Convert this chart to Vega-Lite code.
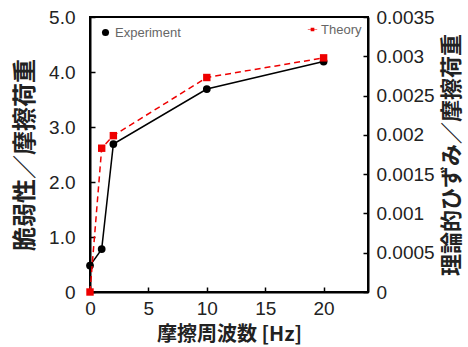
{
  "$schema": "https://vega.github.io/schema/vega-lite/v6.json",
  "autosize": "none",
  "width": 278,
  "height": 275,
  "padding": {"left": 90, "top": 17, "right": 100, "bottom": 55},
  "config": {
    "view": {"stroke": "black", "strokeWidth": 2},
    "font": "Liberation Sans",
    "axis": {
      "domainColor": "black", "domainWidth": 2, "tickColor": "black", "tickWidth": 1.5,
      "grid": false, "labelColor": "#222", "titleColor": "#222", "labelFlush": false,
      "labelFont": "Liberation Sans", "labelFontSize": 19,
      "titleFont": "Noto Sans CJK JP", "titleFontWeight": "bold"
    },
    "legend": {"labelFont": "Liberation Sans", "labelFontSize": 13, "labelColor": "#666", "padding": 0, "symbolStrokeWidth": 0}
  },
  "datasets": {
    "exp": [
      {"f": 0, "v": 0.48, "s": "Experiment"},
      {"f": 1, "v": 0.78, "s": "Experiment"},
      {"f": 2, "v": 2.69, "s": "Experiment"},
      {"f": 10, "v": 3.69, "s": "Experiment"},
      {"f": 20, "v": 4.19, "s": "Experiment"}
    ],
    "th": [
      {"f": 0, "v": 0.0, "s": "Theory"},
      {"f": 1, "v": 0.00183, "s": "Theory"},
      {"f": 2, "v": 0.00199, "s": "Theory"},
      {"f": 10, "v": 0.00273, "s": "Theory"},
      {"f": 20, "v": 0.00298, "s": "Theory"}
    ]
  },
  "layer": [
    {
      "data": {"name": "exp"},
      "mark": {"type": "line", "color": "#777", "strokeWidth": 1.5, "clip": false,
               "point": {"filled": true, "color": "black", "size": 60, "shape": "circle"}},
      "encoding": {
        "x": {"field": "f", "type": "quantitative",
              "scale": {"domain": [0, 23.8], "nice": false, "zero": false},
              "axis": {"values": [0, 5, 10, 15, 20], "tickSize": -5, "labelPadding": 12,
                       "title": "摩擦周波数 [Hz]", "titleFontSize": 20, "titlePadding": 6}},
        "y": {"field": "v", "type": "quantitative",
              "scale": {"domain": [0, 5], "nice": false},
              "axis": {"values": [0, 1, 2, 3, 4, 5], "tickSize": -5, "labelPadding": 20,
                       "labelExpr": "datum.value == 0 ? '0' : format(datum.value, '.1f')",
                       "title": "脆弱性／摩擦荷重", "titleFontSize": 24, "titlePadding": 11}},
        "color": {"datum": "Experiment", "type": "nominal",
                  "scale": {"domain": ["Experiment"], "range": ["black"]},
                  "legend": {"title": null, "orient": "top-left", "offset": 9, "symbolType": "circle", "symbolSize": 50, "labelOffset": 3}}
      }
    },
    {
      "data": {"name": "th"},
      "mark": {"type": "line", "color": "#ff2a2a", "strokeWidth": 1.5, "strokeDash": [6, 4], "clip": false,
               "point": {"filled": true, "color": "#ee0000", "size": 55, "shape": "square"}},
      "encoding": {
        "x": {"field": "f", "type": "quantitative"},
        "y": {"field": "v", "type": "quantitative",
              "scale": {"domain": [0, 0.0035], "nice": false},
              "axis": {"orient": "right", "values": [0, 0.0005, 0.001, 0.0015, 0.002, 0.0025, 0.003, 0.0035],
                       "tickSize": -5, "labelPadding": 13,
                       "labelExpr": "format(datum.value, '~g')",
                       "title": "理論的ひずみ／摩擦荷重", "titleFontSize": 22, "titleAngle": -90, "titlePadding": 29}},
        "color": {"datum": "Theory", "type": "nominal",
                  "scale": {"domain": ["Theory"], "range": ["#ee0000"]},
                  "legend": {"title": null, "orient": "top-right", "offset": 6, "symbolType": "M-1.4,-0.1H1.4V0.1H-1.4Z M-0.55,-0.55H0.55V0.55H-0.55Z", "symbolSize": 45, "labelOffset": 2}}
      }
    }
  ],
  "resolve": {"scale": {"y": "independent", "color": "independent"}, "legend": {"color": "independent"}}
}
